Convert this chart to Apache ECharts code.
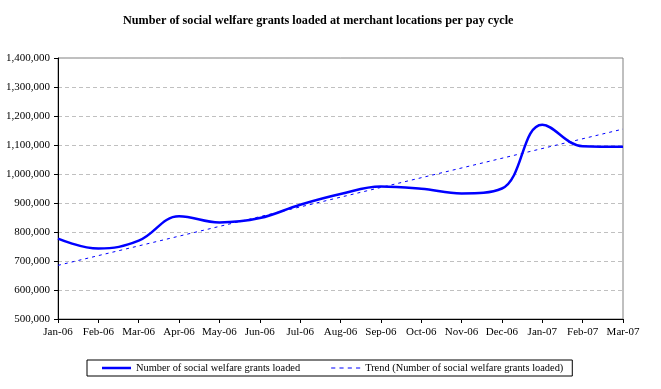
<!DOCTYPE html>
<html>
<head>
<meta charset="utf-8">
<script src="https://cdn.jsdelivr.net/npm/echarts@6/dist/echarts.min.js"></script>
<style>
html,body{margin:0;padding:0;background:#fff;}
#chart{width:661px;height:389px;}
</style>
</head>
<body>
<div id="chart"></div>
<script>
const categories = ['Jan-06','Feb-06','Mar-06','Apr-06','May-06','Jun-06','Jul-06','Aug-06','Sep-06','Oct-06','Nov-06','Dec-06','Jan-07','Feb-07','Mar-07'];
const grants = [777000, 743000, 770000, 854000, 833000, 848000, 894000, 931000, 957000, 949000, 933000, 950000, 1170000, 1096000, 1094000];
const trend = [685000, null, null, null, null, null, null, null, null, null, null, null, null, null, 1155000];
const seriesNames = ['Number of social welfare grants loaded', 'Trend (Number of social welfare grants loaded)'];
const titleText = 'Number of social welfare grants loaded at merchant locations per pay cycle';

const serif = '"Liberation Serif", "DejaVu Serif", serif';
const chart = echarts.init(document.getElementById('chart'));
chart.setOption({
  animation: false,
  backgroundColor: '#fff',
  title: {
    text: titleText,
    left: 118,
    top: 10,
    textStyle: { fontFamily: serif, fontWeight: 'bold', fontSize: 12.2, color: '#000' }
  },
  grid: {
    left: 58, right: 38, top: 58, bottom: 70,
    show: true, borderColor: '#808080', borderWidth: 1, backgroundColor: '#fff'
  },
  legend: {
    left: 87, top: 360,
    orient: 'horizontal',
    borderColor: '#000', borderWidth: 1,
    padding: [3, 9, 3, 15],
    itemGap: 31,
    itemWidth: 29, itemHeight: 10,
    textStyle: { fontFamily: serif, fontSize: 10.4, color: '#000' },
    data: [
      { name: seriesNames[0], icon: 'path://M0,4 L29,4 L29,6.5 L0,6.5 Z' },
      { name: seriesNames[1], icon: 'path://M0,5 L4,5 L4,6 L0,6 Z M8,5 L12,5 L12,6 L8,6 Z M16,5 L20,5 L20,6 L16,6 Z M24,5 L28,5 L28,6 L24,6 Z' }
    ]
  },
  xAxis: {
    type: 'category',
    data: categories,
    boundaryGap: false,
    axisLine: { lineStyle: { color: '#000', width: 1 } },
    axisTick: { show: true, length: 4, inside: false, alignWithLabel: true, lineStyle: { color: '#000' } },
    axisLabel: { interval: 0, fontFamily: serif, fontSize: 11, color: '#000', margin: 8 },
    splitLine: { show: false }
  },
  yAxis: {
    type: 'value',
    min: 500000, max: 1400000, interval: 100000,
    axisLine: { show: true, lineStyle: { color: '#000', width: 1 } },
    axisTick: { show: true, length: 4, lineStyle: { color: '#000' } },
    axisLabel: {
      fontFamily: serif, fontSize: 11, color: '#000', margin: 8,
      formatter: v => v.toLocaleString('en-US')
    },
    splitLine: { show: true, lineStyle: { color: '#c0c0c0', type: [4, 3], width: 1 } }
  },
  series: [
    {
      name: seriesNames[0],
      type: 'line',
      data: grants,
      smooth: 0.4,
      symbol: 'none',
      lineStyle: { color: '#0000ff', width: 2.5 },
      itemStyle: { color: '#0000ff' },
      z: 3
    },
    {
      name: seriesNames[1],
      type: 'line',
      data: trend,
      connectNulls: true,
      symbol: 'none',
      lineStyle: { color: '#0000ff', width: 1, type: [3, 4] },
      itemStyle: { color: '#0000ff' },
      z: 2
    }
  ]
});
</script>
</body>
</html>
